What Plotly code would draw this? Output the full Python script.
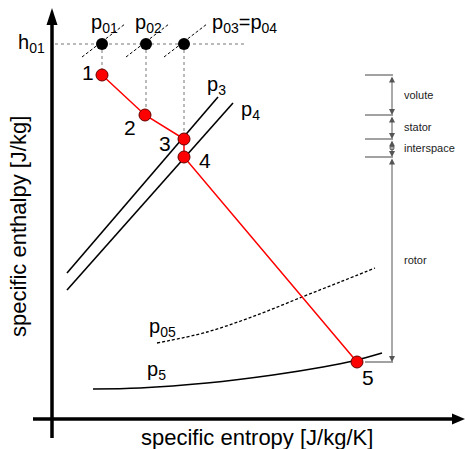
import plotly.graph_objects as go

# ---------------- data (diagram units: s -> x, h -> y) ----------------
state_names = ["1", "2", "3", "4", "5"]
state_s = [102, 145, 184, 184, 357]
state_h = [374, 334, 310, 292, 87]

stag_labels = ["p<sub>01</sub>", "p<sub>02</sub>", "p<sub>03</sub>=p<sub>04</sub>"]
stag_s = [102, 146, 184]
h01 = 405

p3_s = [67, 218]
p3_h = [176, 352]
p4_s = [67, 233]
p4_h = [159, 346]
p05_s = [157, 207, 257, 302, 340, 375]
p05_h = [106, 117, 134, 152, 167, 181]
p5_s = [93, 140, 207, 273, 323, 353, 382]
p5_h = [60, 61, 66, 74, 82, 88, 96]

section_names = ["volute", "stator", "interspace", "rotor"]

FONT = "Liberation Sans, Arial, sans-serif"
fig = go.Figure()

# isobars
fig.add_trace(go.Scatter(x=p3_s, y=p3_h, mode="lines", line=dict(color="black", width=1.6)))
fig.add_trace(go.Scatter(x=p4_s, y=p4_h, mode="lines", line=dict(color="black", width=1.6)))
fig.add_trace(go.Scatter(x=p05_s, y=p05_h, mode="lines", line=dict(color="black", width=1.3, dash="3px,2px", shape="spline")))
fig.add_trace(go.Scatter(x=p5_s, y=p5_h, mode="lines", line=dict(color="black", width=1.6, shape="spline")))

# h01 dotted line
fig.add_trace(go.Scatter(x=[55, 247], y=[h01, h01], mode="lines", line=dict(color="#777", width=1, dash="dot")))
# vertical dotted lines from stagnation to static states
for i in range(3):
    fig.add_trace(go.Scatter(x=[stag_s[i], stag_s[i]], y=[h01, state_h[i]], mode="lines",
                             line=dict(color="#777", width=1, dash="dot")))
# short dashed stagnation isobars
for s in stag_s:
    fig.add_trace(go.Scatter(x=[s - 20, s + 23], y=[h01 - 13, h01 + 20], mode="lines",
                             line=dict(color="black", width=1, dash="3px,2px")))

# process line
fig.add_trace(go.Scatter(x=state_s, y=state_h, mode="lines+markers",
                         line=dict(color="#ff0000", width=1.5),
                         marker=dict(size=12, color="#ff0000", line=dict(color="#600", width=1))))
# stagnation points
fig.add_trace(go.Scatter(x=stag_s, y=[h01] * 3, mode="markers",
                         marker=dict(size=12, color="black")))

shapes = []
ann = []
# axes
shapes.append(dict(type="line", x0=52, x1=52, y0=11, y1=428, line=dict(color="black", width=3.5)))
shapes.append(dict(type="path", path="M 52 441 L 46.5 424 L 57.5 424 Z", fillcolor="black", line=dict(width=0)))
shapes.append(dict(type="line", x0=33, x1=454, y0=30, y1=30, line=dict(color="black", width=3.5)))
shapes.append(dict(type="path", path="M 465 30 L 452 35.5 L 452 24.5 Z", fillcolor="black", line=dict(width=0)))

# section bars on the right
bounds = [state_h[0], state_h[1], state_h[2], state_h[3], state_h[4]]
for b in bounds:
    shapes.append(dict(type="line", x0=365, x1=393, y0=b, y1=b, line=dict(color="#444", width=1)))
for k in range(4):
    ann.append(dict(x=392, y=bounds[k + 1], ax=392, ay=bounds[k], xref="x", yref="y", axref="x", ayref="y",
                    showarrow=True, arrowhead=2, arrowside="end+start", arrowsize=1.2, arrowwidth=1,
                    arrowcolor="#555", text=""))
    ann.append(dict(x=402, y=(bounds[k] + bounds[k + 1]) / 2, text=section_names[k], showarrow=False,
                    xanchor="left", yanchor="middle", font=dict(family=FONT, size=11, color="#222")))
fig.add_trace(go.Scatter(x=[392], y=[(bounds[2] + bounds[3]) / 2], mode="markers",
                         marker=dict(size=4, color="white", line=dict(color="#444", width=1))))

# texts
lab_dx = [-14, -15, -19, 21, 11]
lab_dy = [3, -12, -4, -3, -15]
for i, n in enumerate(state_names):
    ann.append(dict(x=state_s[i] + lab_dx[i], y=state_h[i] + lab_dy[i], text=n, showarrow=False,
                    font=dict(family=FONT, size=21, color="black")))
ann.append(dict(x=stag_s[0] + 2, y=426, text=stag_labels[0], showarrow=False, font=dict(family=FONT, size=20)))
ann.append(dict(x=stag_s[1] + 2, y=426, text=stag_labels[1], showarrow=False, font=dict(family=FONT, size=20)))
ann.append(dict(x=210, y=426, text=stag_labels[2], showarrow=False, xanchor="left", font=dict(family=FONT, size=20)))
ann.append(dict(x=47, y=h01 + 1, text="h<sub>01</sub>", showarrow=False, xanchor="right", font=dict(family=FONT, size=20)))
ann.append(dict(x=216, y=364, text="p<sub>3</sub>", showarrow=False, font=dict(family=FONT, size=20)))
ann.append(dict(x=250, y=339, text="p<sub>4</sub>", showarrow=False, font=dict(family=FONT, size=20)))
ann.append(dict(x=162, y=122, text="p<sub>05</sub>", showarrow=False, font=dict(family=FONT, size=20)))
ann.append(dict(x=156, y=79, text="p<sub>5</sub>", showarrow=False, font=dict(family=FONT, size=20)))
ann.append(dict(x=257, y=12, text="specific entropy [J/kg/K]", showarrow=False, font=dict(family=FONT, size=22)))
ann.append(dict(x=18, y=222, text="specific enthalpy [J/kg]", showarrow=False, textangle=-90,
                font=dict(family=FONT, size=22)))

fig.update_layout(
    width=465, height=449, margin=dict(l=0, r=0, t=0, b=0),
    paper_bgcolor="white", plot_bgcolor="white", showlegend=False,
    font=dict(family=FONT, color="black"),
    xaxis=dict(range=[0, 465], visible=False, fixedrange=True),
    yaxis=dict(range=[0, 449], visible=False, fixedrange=True),
    shapes=shapes, annotations=ann,
)
fig.write_html("out.html")
